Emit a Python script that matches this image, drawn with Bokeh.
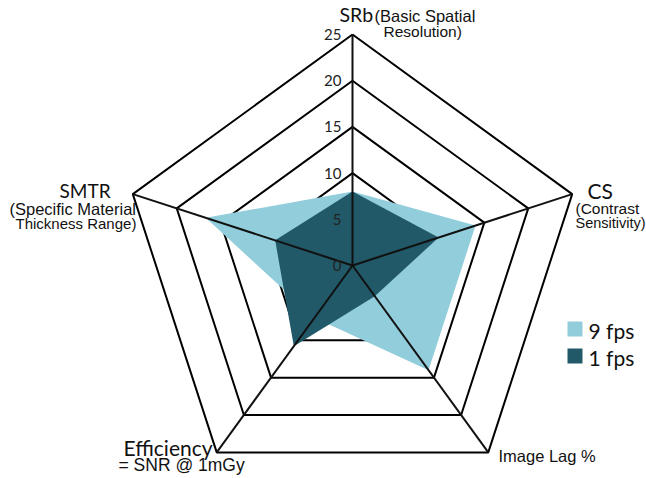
import numpy as np
from bokeh.plotting import figure
from bokeh.models import Range1d
from bokeh.core.properties import value
from bokeh.embed import file_html
from bokeh.resources import INLINE

# ---- data ----
axes_names = ["SRb", "CS", "Image Lag %", "Efficiency", "SMTR"]
series_names = ["9 fps", "1 fps"]
fps9 = [8.0, 14.0, 14.0, 7.0, 16.7]
fps1 = [8.0, 9.8, 4.1, 10.8, 8.8]
ring_levels = [5, 10, 15, 20, 25]
tick_labels = ["0", "5", "10", "15", "20", "25"]
tick_values = [0, 5, 10, 15, 20, 25]

LIGHT = "#92cddc"
DARK = "#215968"

W, H = 646, 478
S = 9.24           # px per unit
CX, CY = 352, 265  # centre in plot px

p = figure(width=W, height=H, output_backend="svg", toolbar_location=None,
           min_border=0, x_range=Range1d(-CX / S, (W - CX) / S),
           y_range=Range1d(-(H - CY) / S, CY / S))
p.axis.visible = False
p.grid.visible = False
p.outline_line_color = None
p.background_fill_color = "white"

n = len(axes_names)
ang = np.pi / 2 - np.arange(n) * 2 * np.pi / n


def poly(vals):
    v = np.asarray(vals, dtype=float)
    return list(v * np.cos(ang)), list(v * np.sin(ang))


def px(X, Y):
    # picture pixel -> data coords
    return (X - CX) / S, -(Y - CY) / S


# rings (under fills)
rx, ry = [], []
for r in ring_levels:
    xs, ys = poly([r] * n)
    rx.append(xs + [xs[0]])
    ry.append(ys + [ys[0]])
p.multi_line(rx, ry, line_color="black", line_width=2)

# fills
for vals, col in [(fps9, LIGHT), (fps1, DARK)]:
    xs, ys = poly(vals)
    p.patch(xs, ys, fill_color=col, line_color=None)

# spokes
ex, ey = poly([ring_levels[-1]] * n)
p.multi_line([[0, x] for x in ex], [[0, y] for y in ey], line_color="#111111", line_width=2)

# tick labels
tx0, _ = px(341, 0)
p.text([tx0] * len(tick_values), tick_values, text=tick_labels,
       text_font=value("Lato"), text_font_size="15px", text_align="right",
       text_baseline="middle", text_color="#222222")

CAL = value("Lato")
ARI = value("Liberation Sans")


def label(X, Ymid, s, font, size):
    x, y = px(X, Ymid)
    p.text([x], [y], text=[s], text_font=font, text_font_size=size,
           text_align="left", text_baseline="middle", text_color="#111111")


label(339, 14, "SRb", CAL, "19.5px")
label(374, 15, "(Basic Spatial", ARI, "16.5px")
label(383, 31, "Resolution)", ARI, "15.5px")

label(59, 190, "SMTR", CAL, "19px")
label(9, 208, "(Specific Material", ARI, "16.5px")
label(15, 222.5, "Thickness Range)", ARI, "15px")

label(587, 190, "CS", CAL, "21px")
label(575, 208, "(Contrast", ARI, "15.5px")
label(575, 222.5, "Sensitivity)", ARI, "14.5px")

label(123, 446.5, "Efficiency", CAL, "21px")
label(118, 464, "= SNR @ 1mGy", ARI, "17.5px")

label(498, 455, "Image Lag %", ARI, "16.5px")

# legend
for (Y0, col, name) in [(321, LIGHT, series_names[0]), (348, DARK, series_names[1])]:
    x0, y0 = px(567, Y0)
    x1, y1 = px(582, Y0 + 15)
    p.quad(left=[x0], right=[x1], top=[y0], bottom=[y1], fill_color=col, line_color=None)
    label(588, Y0 + 8.5, name, CAL, "21px")

open("out.html", "w").write(file_html(p, INLINE))
